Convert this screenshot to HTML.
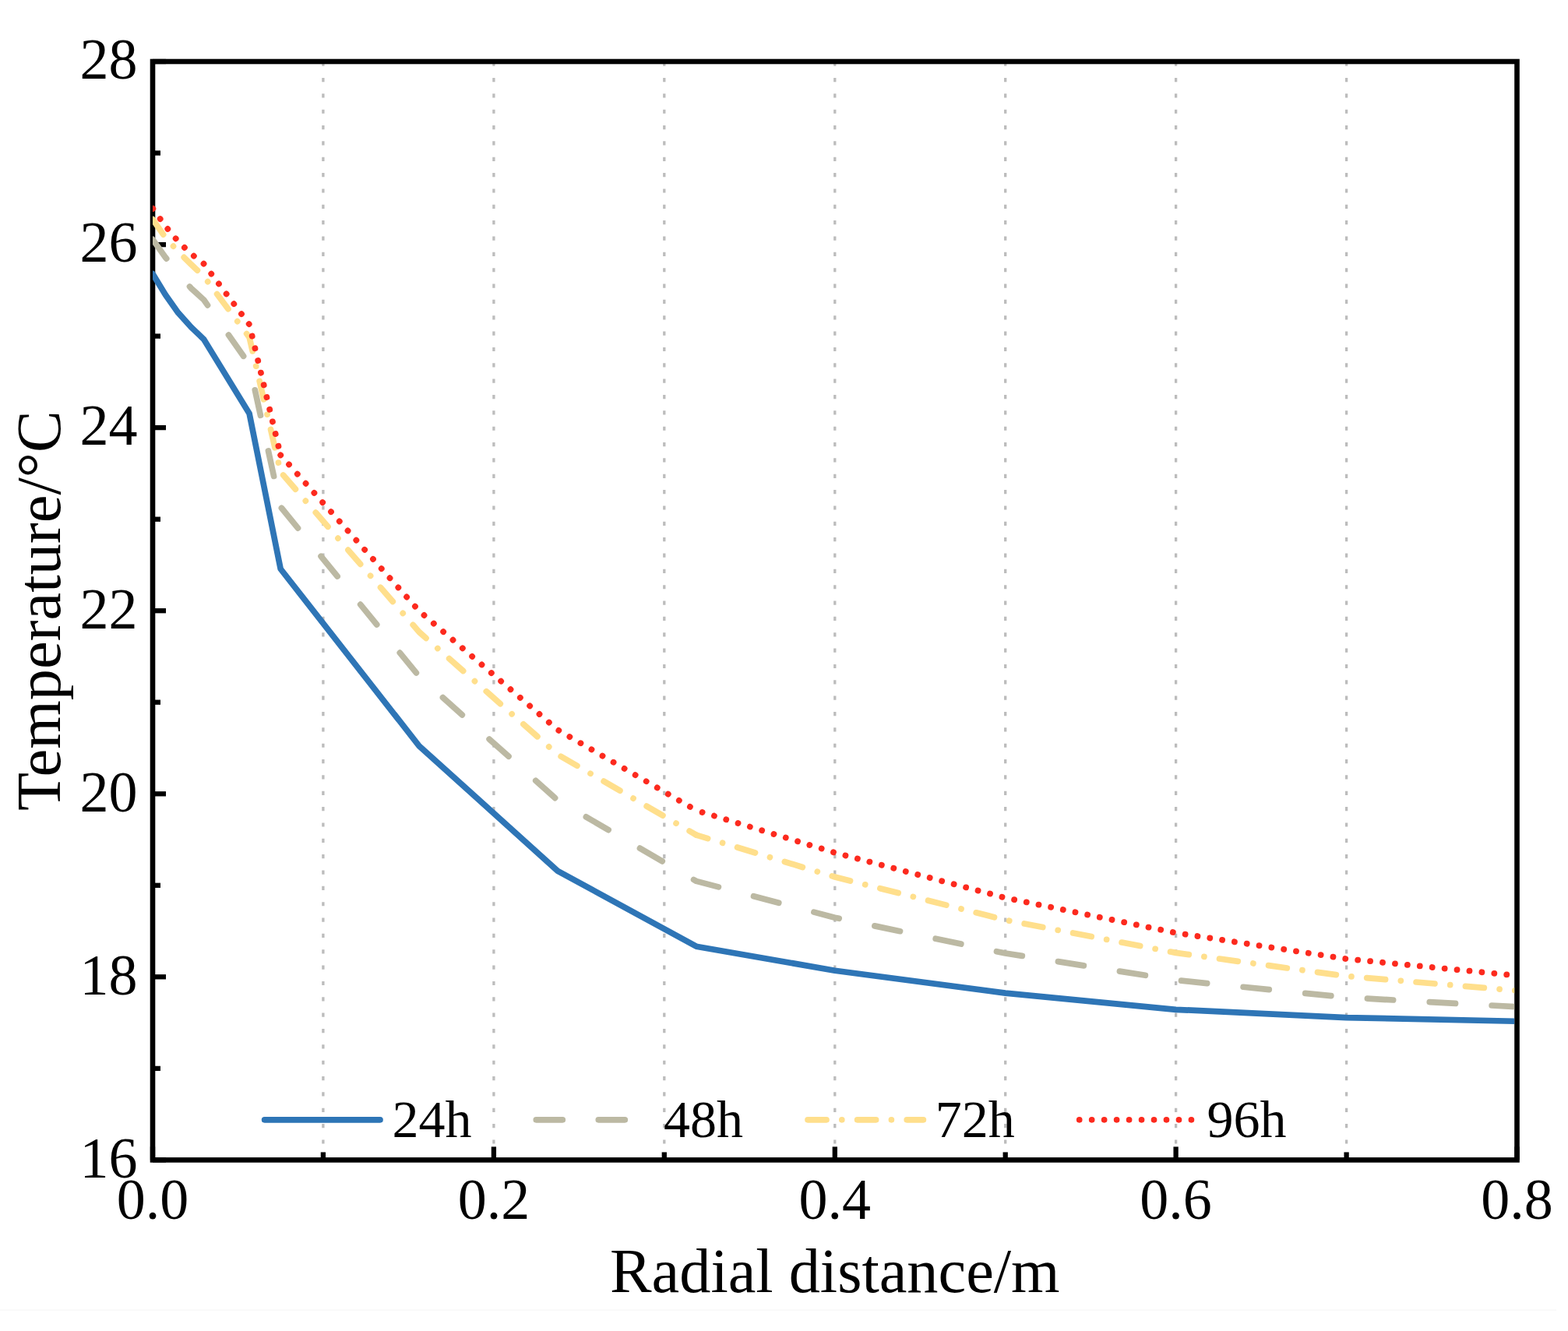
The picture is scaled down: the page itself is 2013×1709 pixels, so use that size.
<!DOCTYPE html>
<html><head><meta charset="utf-8"><title>Temperature vs radial distance</title>
<style>
html,body{margin:0;padding:0;background:#fff;}
svg{display:block;}
text{font-family:"Liberation Serif","Times New Roman",serif;fill:#000;}
</style></head><body>
<svg width="2013" height="1709" viewBox="0 0 2013 1709">
<rect x="0" y="0" width="2013" height="1709" fill="#fff"/>
<line x1="0" y1="1682.3" x2="1998" y2="1682.3" stroke="#F9F9F9" stroke-width="2"/>
<defs><clipPath id="plot"><rect x="196" y="75" width="1748.2" height="1411"/></clipPath></defs>
<g stroke="#BCBCBC" stroke-width="3.3" stroke-dasharray="5.2 15.15" fill="none">
<line x1="414.9" y1="79.6" x2="414.9" y2="1486"/>
<line x1="633.9" y1="79.6" x2="633.9" y2="1486"/>
<line x1="852.8" y1="79.6" x2="852.8" y2="1486"/>
<line x1="1071.8" y1="79.6" x2="1071.8" y2="1486"/>
<line x1="1290.7" y1="79.6" x2="1290.7" y2="1486"/>
<line x1="1509.6" y1="79.6" x2="1509.6" y2="1486"/>
<line x1="1728.6" y1="79.6" x2="1728.6" y2="1486"/>
</g>
<rect x="196" y="79" width="1751.5" height="1410.4" fill="none" stroke="#000" stroke-width="6.6"/>
<g stroke="#000" stroke-width="6.3">
<line x1="196" y1="1489.4" x2="213.0" y2="1489.4"/>
<line x1="196" y1="1371.9" x2="206.0" y2="1371.9"/>
<line x1="196" y1="1254.3" x2="213.0" y2="1254.3"/>
<line x1="196" y1="1136.8" x2="206.0" y2="1136.8"/>
<line x1="196" y1="1019.3" x2="213.0" y2="1019.3"/>
<line x1="196" y1="901.7" x2="206.0" y2="901.7"/>
<line x1="196" y1="784.2" x2="213.0" y2="784.2"/>
<line x1="196" y1="666.7" x2="206.0" y2="666.7"/>
<line x1="196" y1="549.1" x2="213.0" y2="549.1"/>
<line x1="196" y1="431.6" x2="206.0" y2="431.6"/>
<line x1="196" y1="314.1" x2="213.0" y2="314.1"/>
<line x1="196" y1="196.5" x2="206.0" y2="196.5"/>
<line x1="196" y1="79.0" x2="213.0" y2="79.0"/>
<line x1="196.0" y1="1489.4" x2="196.0" y2="1472.4"/>
<line x1="414.9" y1="1489.4" x2="414.9" y2="1479.4"/>
<line x1="633.9" y1="1489.4" x2="633.9" y2="1472.4"/>
<line x1="852.8" y1="1489.4" x2="852.8" y2="1479.4"/>
<line x1="1071.8" y1="1489.4" x2="1071.8" y2="1472.4"/>
<line x1="1290.7" y1="1489.4" x2="1290.7" y2="1479.4"/>
<line x1="1509.6" y1="1489.4" x2="1509.6" y2="1472.4"/>
<line x1="1728.6" y1="1489.4" x2="1728.6" y2="1479.4"/>
<line x1="1947.5" y1="1489.4" x2="1947.5" y2="1472.4"/>
</g>
<g clip-path="url(#plot)" fill="none" stroke-linejoin="round" stroke-linecap="round" stroke-width="7.7">
<polyline points="196.0,351.5 212.4,378.5 228.8,401.7 245.3,420.0 261.7,435.7 320.1,531.0 360.2,730.5 538.1,957.8 716.0,1118.3 893.9,1215.2 1071.8,1246.2 1290.7,1275.1 1509.6,1296.3 1728.6,1306.6 1947.5,1311.3" stroke="#2E75B6"/>
<polyline points="196.0,307.4 212.4,330.5 228.8,350.5 245.3,370.1 261.7,385.0 320.1,467.9 360.2,650.8" stroke="#BCB9A3" stroke-dasharray="33.3 46.7" stroke-dashoffset="2.95"/>
<polyline points="360.2,650.8 538.1,868.5 716.0,1027.6 893.9,1131.4 1071.8,1178.2 1290.7,1224.0 1509.6,1258.5 1728.6,1280.7 1947.5,1292.8" stroke="#BCB9A3" stroke-dasharray="33.3 46.7" stroke-dashoffset="78.07"/>
<polyline points="196.0,281.5 212.4,305.1 228.8,323.1 245.3,339.4 261.7,354.9 320.1,433.2 360.2,606.0" stroke="#FFDF8C" stroke-dasharray="24.0 19.8 0.01 19.79" stroke-dashoffset="0.10"/>
<polyline points="360.2,606.0 538.1,811.5 716.0,968.8 893.9,1072.1" stroke="#FFDF8C" stroke-dasharray="24.0 19.8 0.01 19.79" stroke-dashoffset="58.32"/>
<polyline points="893.9,1072.1 1071.8,1126.0 1290.7,1181.3 1509.6,1223.4 1728.6,1253.4 1947.5,1272.0" stroke="#FFDF8C" stroke-dasharray="24.0 19.8 0.01 19.79" stroke-dashoffset="8.61"/>
<polyline points="196.0,267.4 212.4,290.5 228.8,310.1 245.3,325.9 261.7,338.8 320.1,416.6 360.2,584.3" stroke="#FC2A1E" stroke-width="7.8" stroke-dasharray="0.01 16.12" stroke-dashoffset="15.53"/>
<polyline points="360.2,584.3 538.1,784.5 716.0,937.1 893.9,1040.6" stroke="#FC2A1E" stroke-width="7.8" stroke-dasharray="0.01 16.24" stroke-dashoffset="0"/>
<polyline points="893.9,1040.6 1071.8,1094.8 1290.7,1152.8 1509.6,1197.8 1728.6,1231.2 1947.5,1252.7" stroke="#FC2A1E" stroke-width="7.8" stroke-dasharray="0.01 15.99" stroke-dashoffset="7.93"/>
</g>
<g font-size="74" text-anchor="end">
<text x="176.5" y="1511.7">16</text>
<text x="176.5" y="1276.6">18</text>
<text x="176.5" y="1041.6">20</text>
<text x="176.5" y="806.5">22</text>
<text x="176.5" y="571.4">24</text>
<text x="176.5" y="336.4">26</text>
<text x="176.5" y="101.3">28</text>
</g>
<g font-size="74" text-anchor="middle">
<text x="196.0" y="1564.6">0.0</text>
<text x="633.9" y="1564.6">0.2</text>
<text x="1071.8" y="1564.6">0.4</text>
<text x="1509.6" y="1564.6">0.6</text>
<text x="1947.5" y="1564.6">0.8</text>
</g>
<text x="1071.8" y="1658.9" font-size="80.3" text-anchor="middle">Radial distance/m</text>
<text transform="translate(76.7,784.2) rotate(-90)" font-size="80.5" text-anchor="middle">Temperature/°C</text>
<g fill="none" stroke-linecap="round" stroke-width="7.7">
<line x1="339.6" y1="1437.8" x2="488.0" y2="1437.8" stroke="#2E75B6"/>
<line x1="688.3" y1="1437.8" x2="836.7" y2="1437.8" stroke="#BCB9A3" stroke-dasharray="34 46"/>
<line x1="1037.0" y1="1437.8" x2="1185.4" y2="1437.8" stroke="#FFDF8C" stroke-dasharray="24 19.8 0.01 19.79"/>
<line x1="1385.7" y1="1437.8" x2="1534.1" y2="1437.8" stroke="#FC2A1E" stroke-dasharray="0.01 15.96"/>
</g>
<g font-size="68">
<text x="503.4" y="1459.9">24h</text>
<text x="852.1" y="1459.9">48h</text>
<text x="1200.8" y="1459.9">72h</text>
<text x="1549.5" y="1459.9">96h</text>
</g>
</svg>
</body></html>
